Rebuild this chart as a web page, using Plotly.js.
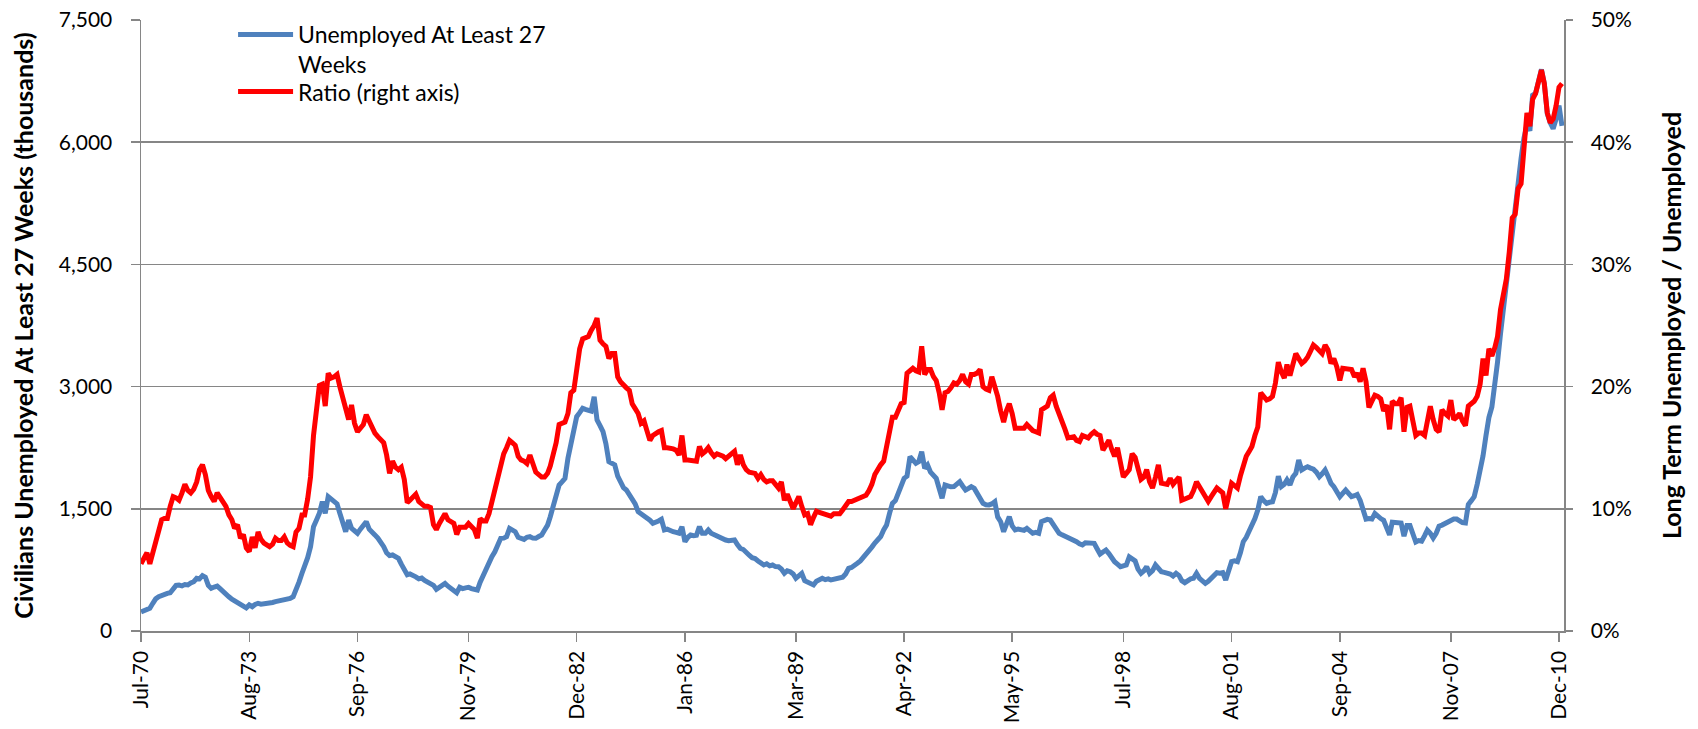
<!DOCTYPE html>
<html>
<head>
<meta charset="utf-8">
<script src="https://cdn.plot.ly/plotly-3.0.1.min.js"></script>
<style>html,body{margin:0;padding:0;background:#fff;}#chart{width:1698px;height:729px;}</style>
</head>
<body>
<div id="chart"></div>
<script>
// First month of the monthly series (Jul 1970) — one value per month through Jan 2011
const startYear = 1970;
const startMonth = 7;

// Civilians unemployed at least 27 weeks (thousands), monthly
const longTermUnemployed = [
  235, 255, 262, 280, 340, 395,
  420, 440, 455, 462, 470, 520, 560, 565, 555, 570, 565, 590,
  605, 647, 640, 680, 660, 560, 524, 540, 552, 520, 480, 445,
  420, 390, 372, 360, 340, 318, 285, 320, 298, 325, 340, 330,
  335, 340, 331, 350, 360, 365, 375, 385, 389, 400, 421, 500,
  600, 708, 789, 900, 1035, 1280, 1360, 1445, 1587, 1445, 1649, 1620,
  1590, 1560, 1445, 1350, 1219, 1362, 1260, 1230, 1199, 1250, 1290, 1342,
  1250, 1219, 1180, 1140, 1090, 1035, 960, 925, 933, 910, 892, 820,
  760, 690, 700, 687, 665, 640, 650, 620, 605, 590, 560, 512,
  540, 560, 585, 550, 524, 510, 470, 536, 520, 530, 536, 520,
  515, 503, 600, 687, 749, 840, 912, 973, 1050, 1138, 1140, 1158,
  1260, 1240, 1219, 1150, 1140, 1125, 1150, 1158, 1140, 1138, 1160, 1178,
  1240, 1300, 1403, 1520, 1649, 1792, 1830, 1874, 2120, 2304, 2500, 2631,
  2680, 2734, 2720, 2713, 2700, 2876, 2590, 2520, 2446, 2300, 2078, 2060,
  2038, 1900, 1813, 1760, 1731, 1680, 1608, 1560, 1465, 1440, 1420, 1403,
  1360, 1322, 1330, 1350, 1371, 1240, 1250, 1230, 1219, 1210, 1199, 1281,
  1096, 1150, 1178, 1170, 1175, 1281, 1199, 1199, 1240, 1200, 1180, 1158,
  1140, 1125, 1117, 1109, 1110, 1117, 1060, 1015, 1000, 954, 930, 900,
  890, 860, 840, 810, 825, 800, 810, 790, 789, 760, 708, 740,
  728, 700, 647, 680, 708, 618, 600, 580, 565, 610, 635, 647,
  630, 640, 626, 635, 640, 647, 660, 700, 769, 780, 800, 831,
  860, 900, 940, 973, 1030, 1080, 1117, 1160, 1240, 1300, 1445, 1567,
  1600, 1700, 1813, 1874, 1900, 2140, 2100, 2058, 2080, 2201, 1997, 2038,
  1950, 1900, 1874, 1750, 1629, 1792, 1780, 1770, 1772, 1800, 1833, 1780,
  1731, 1750, 1772, 1750, 1690, 1600, 1567, 1550, 1547, 1560, 1587, 1400,
  1342, 1219, 1300, 1403, 1290, 1240, 1250, 1240, 1235, 1260, 1220, 1199,
  1210, 1199, 1342, 1350, 1370, 1362, 1300, 1260, 1199, 1180, 1165, 1150,
  1138, 1120, 1096, 1070, 1056, 1084, 1080, 1078, 1076, 1010, 945, 970,
  994, 950, 892, 850, 820, 789, 800, 810, 910, 880, 861, 760,
  708, 740, 789, 708, 740, 810, 760, 728, 720, 716, 700, 675,
  708, 680, 618, 593, 620, 640, 647, 708, 647, 620, 585, 610,
  647, 680, 716, 710, 716, 626, 728, 851, 860, 851, 960, 1096,
  1150, 1219, 1281, 1380, 1485, 1649, 1600, 1567, 1580, 1587, 1700, 1900,
  1772, 1800, 1854, 1792, 1890, 1936, 2099, 1977, 2000, 2017, 2000, 1987,
  1950, 1894, 1930, 1977, 1900, 1813, 1772, 1700, 1649, 1690, 1731, 1690,
  1649, 1660, 1675, 1602, 1480, 1374, 1380, 1374, 1442, 1400, 1380, 1359,
  1250, 1180, 1335, 1330, 1325, 1325, 1165, 1296, 1296, 1200, 1092, 1110,
  1102, 1170, 1238, 1200, 1141, 1200, 1286, 1300, 1320, 1335, 1350, 1374,
  1374, 1345, 1330, 1325, 1553, 1600, 1650, 1800, 1966, 2150, 2400, 2621,
  2750, 3010, 3300, 3650, 3962, 4300, 4600, 4950, 5300, 5600, 5800, 6050,
  6214, 6141, 6578, 6600, 6750, 6893, 6723, 6350, 6238, 6165, 6286, 6450,
  6200
];

// Long term unemployed / unemployed (%), monthly
const ratioPct = [
  5.5, 5.9, 6.4, 5.5, 6.5, 7.2,
  8.3, 9.1, 9.2, 9.2, 10.2, 11.0, 10.9, 10.7, 11.3, 12.0, 11.5, 11.3,
  11.6, 12.2, 13.2, 13.6, 12.8, 11.5, 11.0, 10.6, 11.3, 10.9, 10.5, 10.2,
  9.5, 9.1, 8.4, 8.7, 7.6, 7.9, 6.8, 6.5, 7.7, 6.8, 8.1, 7.5,
  7.2, 7.0, 6.9, 7.1, 7.6, 7.4, 7.4, 7.7, 7.2, 7.0, 6.9, 8.1,
  8.4, 9.5, 9.5, 10.8, 12.6, 16.0, 17.7, 20.1, 20.2, 18.4, 21.1, 20.7,
  20.8, 21.0, 20.0, 19.2, 18.4, 17.3, 18.5, 17.0, 16.3, 16.6, 16.9, 17.7,
  17.2, 16.6, 16.2, 15.9, 15.6, 15.4, 14.4, 12.9, 13.9, 13.4, 13.2, 13.4,
  12.4, 10.5, 10.7, 11.0, 11.2, 10.6, 10.4, 10.2, 10.2, 10.1, 8.7, 8.3,
  8.8, 9.2, 9.6, 9.1, 9.0, 8.8, 7.9, 8.5, 8.5, 8.5, 8.8, 8.6,
  8.3, 7.6, 9.2, 9.0, 9.0, 9.6, 10.5, 11.8, 12.6, 13.5, 14.5, 15.0,
  15.6, 15.4, 15.2, 14.3, 14.0, 13.9, 13.7, 14.4, 13.5, 13.0, 12.8, 12.6,
  12.6, 12.9, 13.5, 14.5, 15.4, 16.9, 17.0, 17.1, 17.8, 19.5, 19.7, 21.5,
  23.1, 23.9, 24.0, 24.1, 24.6, 25.0, 25.6, 23.8, 23.5, 23.3, 22.3, 22.7,
  22.7, 20.8, 20.4, 20.1, 19.9, 19.7, 18.6, 18.2, 17.8, 17.0, 17.2, 16.4,
  15.6, 16.0, 16.2, 16.3, 16.4, 15.0, 15.0, 15.0, 14.9, 14.8, 14.4, 16.0,
  14.0, 14.0, 14.0, 14.0, 13.9, 15.1, 14.5, 14.7, 15.0, 14.6, 14.3, 14.5,
  14.4, 14.3, 14.1, 14.3, 14.5, 14.7, 13.6, 14.4, 13.6, 13.2, 13.0, 12.9,
  12.9, 12.5, 12.8, 12.4, 12.2, 12.3, 12.3, 12.0, 11.7, 12.2, 10.7, 11.2,
  10.6, 10.0, 10.5, 11.0, 10.2, 9.5, 9.6, 8.7, 9.3, 9.8, 9.7, 9.6,
  9.5, 9.4, 9.4, 9.6, 9.6, 9.6, 9.9, 10.2, 10.6, 10.6, 10.7, 10.7,
  10.8, 10.9, 11.1, 11.5, 12.0, 12.8, 13.3, 13.6, 13.9, 15.2, 16.3, 17.5,
  17.5, 18.2, 18.6, 18.7, 21.1, 21.3, 21.5, 21.3, 21.2, 23.3, 21.0, 21.4,
  21.4, 20.8, 20.5, 19.5, 18.1, 19.5, 19.6, 19.9, 20.3, 20.2, 20.5, 21.0,
  20.4, 20.2, 21.0, 21.0, 21.1, 21.4, 20.0, 19.8, 19.7, 20.8, 20.0, 19.2,
  18.0, 17.1, 18.0, 18.6, 17.8, 16.6, 16.6, 16.6, 16.6, 16.9, 16.6, 16.4,
  16.3, 16.2, 18.1, 18.3, 18.4, 19.1, 19.3, 18.4, 17.8, 17.3, 16.5, 15.8,
  15.9, 15.9, 15.6, 15.5, 16.0, 15.9, 15.8, 16.1, 16.3, 16.1, 16.0, 14.8,
  15.3, 15.6, 14.9, 14.3, 15.0, 13.8, 12.6, 12.9, 13.2, 14.5, 14.2, 13.3,
  12.4, 12.6, 13.2, 12.2, 11.7, 12.6, 13.6, 12.1, 12.0, 12.0, 12.5, 12.0,
  12.3, 12.6, 10.7, 10.8, 11.0, 11.0, 11.5, 12.2, 11.8, 11.4, 10.9, 10.6,
  11.0, 11.4, 11.7, 11.5, 11.3, 10.0, 10.9, 12.1, 11.9, 11.7, 12.7, 13.7,
  14.3, 14.7, 15.1, 16.0, 16.7, 19.5, 19.2, 18.9, 19.0, 19.2, 20.3, 22.0,
  21.2, 20.7, 21.8, 20.9, 21.8, 22.7, 22.3, 21.9, 22.1, 22.4, 22.9, 23.4,
  23.2, 22.9, 22.7, 23.4, 23.0, 21.9, 22.3, 21.6, 20.5, 21.5, 21.5, 21.5,
  21.4, 20.8, 21.1, 20.4, 21.5, 20.4, 18.3, 18.8, 19.3, 19.2, 19.0, 18.0,
  18.5, 16.5, 18.8, 18.6, 18.6, 19.1, 16.3, 18.3, 18.4, 17.2, 16.0, 16.2,
  16.2, 16.0, 17.0, 18.4, 17.3, 16.5, 16.3, 18.1, 17.8, 17.6, 18.9, 17.3,
  17.5, 17.8, 17.2, 16.8, 18.4, 18.6, 18.8, 19.2, 20.2, 22.3, 20.9, 23.1,
  22.5, 23.2, 24.1, 26.3, 27.5, 28.8, 31.0, 33.8, 34.1, 36.2, 36.6, 39.6,
  42.4, 41.3, 43.5, 44.0, 45.0, 45.9, 44.8, 42.4, 41.6, 41.9, 43.0, 44.5,
  44.8
];

// X-axis tick months and labels
const tickMonths = ['1970-07-01','1973-08-01','1976-09-01','1979-11-01','1982-12-01','1986-01-01','1989-03-01',
                    '1992-04-01','1995-05-01','1998-07-01','2001-08-01','2004-09-01','2007-11-01','2010-12-01'];
const tickLabels = ['Jul-70','Aug-73','Sep-76','Nov-79','Dec-82','Jan-86','Mar-89',
                    'Apr-92','May-95','Jul-98','Aug-01','Sep-04','Nov-07','Dec-10'];

const leftTicks = [0, 1500, 3000, 4500, 6000, 7500];
const leftTickLabels = ['0', '1,500', '3,000', '4,500', '6,000', '7,500'];
const rightTicks = [0, 10, 20, 30, 40, 50];
const rightTickLabels = ['0%', '10%', '20%', '30%', '40%', '50%'];

const seriesNames = ['Unemployed At Least 27<br>Weeks', 'Ratio (right axis)'];
const leftTitle = 'Civilians Unemployed At Least 27 Weeks (thousands)';
const rightTitle = 'Long Term Unemployed / Unemployed';

function monthDates(n) {
  const out = [];
  for (let i = 0; i < n; i++) {
    const t = (startMonth - 1) + i;
    const y = startYear + Math.floor(t / 12);
    const m = (t % 12) + 1;
    out.push(y + '-' + String(m).padStart(2, '0') + '-01');
  }
  return out;
}

const dates = monthDates(longTermUnemployed.length);
const GRID = '#868686';
const legendStyle = {
  xanchor: 'left', yanchor: 'top',
  bgcolor: 'rgba(0,0,0,0)', borderwidth: 0,
  font: {size: 23, color: '#000000'}, valign: 'top', itemwidth: 55
};

const traces = [
  {
    x: dates, y: longTermUnemployed, name: seriesNames[0], type: 'scatter', mode: 'lines',
    line: {color: '#4F81BD', width: 5}, yaxis: 'y', legend: 'legend'
  },
  {
    x: dates, y: ratioPct, name: seriesNames[1], type: 'scatter', mode: 'lines',
    line: {color: '#FF0000', width: 5}, yaxis: 'y2', legend: 'legend2'
  }
];

const layout = {
  width: 1698, height: 729,
  margin: {l: 141, r: 134, t: 20, b: 98, pad: 0},
  paper_bgcolor: '#ffffff', plot_bgcolor: '#ffffff',
  font: {family: 'Lato, "Open Sans", sans-serif', color: '#000000'},
  showlegend: true,
  legend: Object.assign({x: 0.0647, y: 1.0115}, legendStyle),
  legend2: Object.assign({x: 0.0647, y: 0.918}, legendStyle),
  xaxis: {
    type: 'date', range: ['1970-07-01', '2011-01-22'],
    tickmode: 'array', tickvals: tickMonths, ticktext: tickLabels,
    tickangle: -90, tickfont: {size: 21},
    ticks: 'outside', ticklen: 9, tickwidth: 1.5, tickcolor: GRID,
    showline: true, linecolor: GRID, linewidth: 1.5,
    showgrid: false, zeroline: false, ticklabelstandoff: 1
  },
  yaxis: {
    range: [0, 7500], tickmode: 'array', tickvals: leftTicks, ticktext: leftTickLabels,
    tickfont: {size: 21},
    ticks: 'outside', ticklen: 9, tickwidth: 1.5, tickcolor: GRID,
    showline: true, linecolor: GRID, linewidth: 1.5,
    showgrid: true, gridcolor: GRID, gridwidth: 1.5, zeroline: false,
    ticklabelstandoff: 14,
    title: {text: leftTitle, font: {size: 25, weight: 'bold'}, standoff: 18}
  },
  yaxis2: {
    overlaying: 'y', side: 'right', range: [0, 50],
    tickmode: 'array', tickvals: rightTicks, ticktext: rightTickLabels,
    tickfont: {size: 21},
    ticks: 'outside', ticklen: 7, tickwidth: 1.5, tickcolor: GRID,
    showline: true, linecolor: GRID, linewidth: 1.5,
    showgrid: false, zeroline: false, ticklabelstandoff: 14,
    title: {text: rightTitle, font: {size: 25, weight: 'bold'}, standoff: 32}
  }
};

Plotly.newPlot('chart', traces, layout, {displayModeBar: false, staticPlot: true});
</script>
</body>
</html>
